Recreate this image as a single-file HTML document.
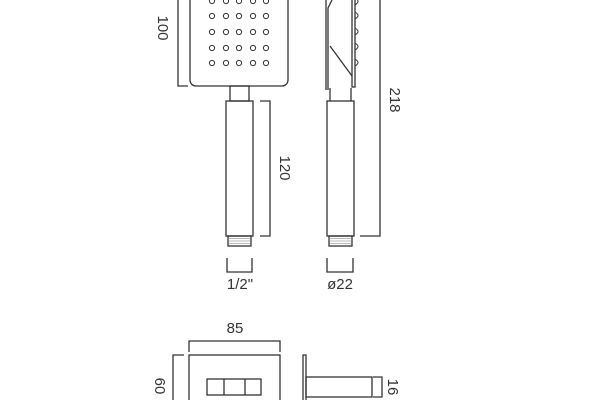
<!DOCTYPE html>
<html><head><style>html,body{margin:0;padding:0;background:#fff}</style></head><body>
<svg width="600" height="400" viewBox="0 0 600 400" xmlns="http://www.w3.org/2000/svg" style="display:block">
<g fill="none" stroke="#333" stroke-width="1.3">
<!-- front head -->
<rect x="190" y="-20" width="98" height="106" rx="6"/>
<g stroke-width="1">
<g id="row">
<circle cx="212" cy="1" r="2.6"/><circle cx="226" cy="1" r="2.6"/><circle cx="239" cy="1" r="2.6"/><circle cx="253" cy="1" r="2.6"/><circle cx="266" cy="1" r="2.6"/>
</g>
<use href="#row" y="15"/><use href="#row" y="31"/><use href="#row" y="47"/><use href="#row" y="62"/>
</g>
<polyline points="188,86 178,86 178,0"/>
<rect x="230" y="86" width="19" height="15"/>
<rect x="226" y="101" width="27" height="135"/>
<rect x="228" y="236" width="23" height="10"/>
<g stroke-width="0.6" stroke="#777"><line x1="228" y1="238.5" x2="251" y2="238.5"/><line x1="228" y1="241" x2="251" y2="241"/><line x1="228" y1="243.5" x2="251" y2="243.5"/></g>
<polyline points="260,101 270,101 270,236 260,236"/>
<polyline points="227,258 227,272 252,272 252,258"/>
<!-- side view -->
<line x1="326" y1="0" x2="326" y2="90"/>
<polyline points="332,0 328,8 328,90"/>
<line x1="330" y1="46" x2="352" y2="76"/>
<rect x="352" y="-5" width="3" height="92"/>
<g stroke-width="1">
<path d="M355,-2 Q361,1 355,5"/><path d="M355,12 Q361,15.5 355,19"/><path d="M355,28 Q361,31.5 355,35"/><path d="M355,43 Q361,46.5 355,50"/><path d="M355,59 Q361,62.5 355,66"/>
</g>
<line x1="330" y1="88" x2="330" y2="101"/><line x1="351" y1="88" x2="351" y2="101"/>
<rect x="327" y="101" width="27" height="135"/>
<rect x="329" y="236" width="23" height="10"/>
<g stroke-width="0.6" stroke="#777"><line x1="329" y1="238.5" x2="352" y2="238.5"/><line x1="329" y1="241" x2="352" y2="241"/><line x1="329" y1="243.5" x2="352" y2="243.5"/></g>
<polyline points="360,236 380,236 380,0"/>
<polyline points="327,258 327,272 353,272 353,258"/>
<!-- bottom -->
<polyline points="189,352 189,341 280,341 280,352"/>
<rect x="189" y="355" width="91" height="60"/>
<rect x="207" y="379" width="54" height="16"/>
<line x1="224" y1="379" x2="224" y2="395"/><line x1="245" y1="379" x2="245" y2="395"/>
<polyline points="184,355 173,355 173,400"/>
<rect x="303" y="355" width="3" height="60"/>
<rect x="306" y="377" width="66" height="20"/>
<polyline points="373,377 382,377 382,397 373,397"/>
</g>
<g font-family="Liberation Sans, sans-serif" font-size="15" fill="#333" text-anchor="middle">
<text transform="translate(158,28) rotate(90)">100</text>
<text transform="translate(280,168) rotate(90)">120</text>
<text transform="translate(390,100) rotate(90)">218</text>
<text x="240" y="289">1/2"</text>
<text x="340" y="289">ø22</text>
<text x="235" y="333">85</text>
<text transform="translate(155,386) rotate(90)">60</text>
<text transform="translate(388,387) rotate(90)">16</text>
</g>
</svg>
</body></html>
